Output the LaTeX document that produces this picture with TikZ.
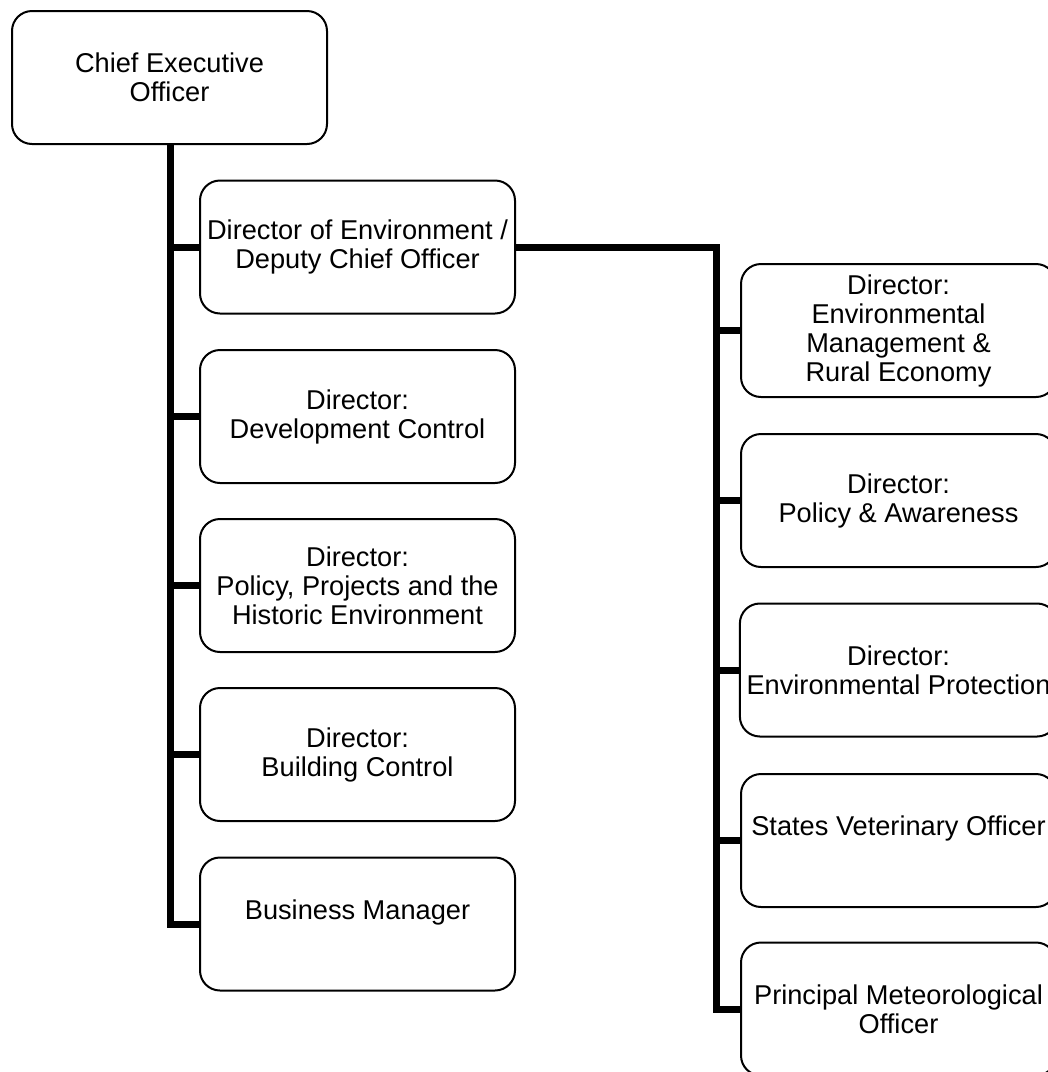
\documentclass[tikz,border=0pt]{standalone}
\usepackage{fontspec}
\setmainfont{Liberation Sans}
\usepackage{tikz}
\tikzstyle{bag} = [draw, rounded corners=10pt, align=center, line width=1pt,
  minimum width=157.5pt, minimum height=66.5pt, font=\fontsize{13.6}{14.5}\selectfont]
\tikzstyle{link} = [line width=3.5pt]

\begin{document}
\begin{tikzpicture}[x=0.5pt,y=-0.5pt]
  \clip (0,0) rectangle (1048,1072);
  % top
  \node [bag] (ceo) at (169.5,77.5) {Chief Executive\\ Officer};
  % left column
  \node [bag] (doe) at (357.5,247) {Director of Environment /\\ Deputy Chief Officer};
  \node [bag] (dev) at (357.5,416.5) {Director:\\ Development Control};
  \node [bag] (ppe) at (357.5,585.5) {Director:\\ Policy, Projects and the\\ Historic Environment};
  \node [bag] (bc) at (357.5,754.5) {Director:\\ Building Control};
  \node [bag] (bm) at (357.5,924) {Business Manager\\ \mbox{}};
  % right column
  \node [bag] (emre) at (898.5,330.5) {Director:\\ Environmental\\ Management \&\\ Rural Economy};
  \node [bag] (pa) at (898.5,500.5) {Director:\\ Policy \& Awareness};
  \node [bag] (ep) at (898.5,670) {Director:\\ Environmental Protection};
  \node [bag] (svo) at (898.5,840.5) {States Veterinary Officer\\ \mbox{}};
  \node [bag] (pmo) at (898.5,1009) {Principal Meteorological\\ Officer};

  \coordinate (lt) at (170,145);
  \coordinate (rt) at (716.5,247);

  \draw [link] (lt) |- (bm.west);
  \draw [link] (doe.west) -- (doe.west -| lt);
  \draw [link] (dev.west) -- (dev.west -| lt);
  \draw [link] (ppe.west) -- (ppe.west -| lt);
  \draw [link] (bc.west) -- (bc.west -| lt);

  \draw [link] (doe.east) -- (rt) |- (pmo.west);
  \draw [link] (emre.west) -- (emre.west -| rt);
  \draw [link] (pa.west) -- (pa.west -| rt);
  \draw [link] (ep.west) -- (ep.west -| rt);
  \draw [link] (svo.west) -- (svo.west -| rt);
\end{tikzpicture}
\end{document}
